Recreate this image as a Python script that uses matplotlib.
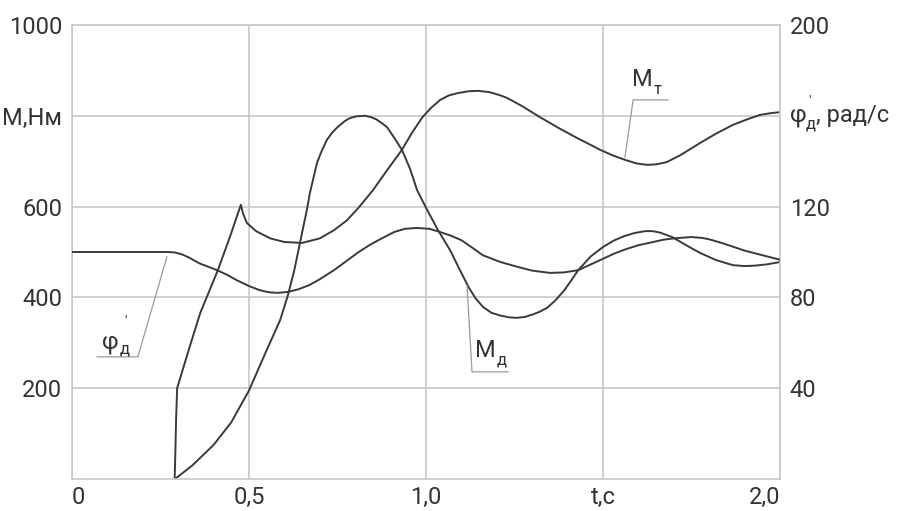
import matplotlib
matplotlib.use('Agg')
import matplotlib.pyplot as plt

plt.rcParams['font.family'] = ['Roboto', 'DejaVu Sans']

# shaft speed phi'_d, rad/s (right axis)
t_phi = [0, 0.27, 0.29, 0.31, 0.33, 0.36, 0.385, 0.41, 0.44, 0.465, 0.50, 0.53,
         0.555, 0.58, 0.61, 0.64, 0.67, 0.70, 0.74, 0.775, 0.81, 0.84, 0.87,
         0.91, 0.94, 0.975, 1.01, 1.04, 1.07, 1.10, 1.13, 1.16, 1.21, 1.26,
         1.30, 1.35, 1.39, 1.43, 1.465, 1.50, 1.53, 1.56, 1.60, 1.63, 1.67,
         1.70, 1.75, 1.78, 1.80, 1.835, 1.87, 1.90, 1.94, 1.97, 2.0]
phi = [100, 100, 99.8, 99.0, 97.6, 95, 93.5, 92, 89.8, 87.6, 85, 83.2,
       82.3, 82, 82.4, 83.6, 85.4, 88, 92, 96, 100, 103, 105.6,
       108.8, 110.2, 110.6, 110.2, 108.8, 107.2, 105.2, 102, 98.6, 95.6, 93.4,
       91.8, 90.8, 91, 92, 94.5, 97, 99.2, 101, 103, 104, 105.4,
       106, 106.6, 106.2, 105.6, 104, 102.2, 100.6, 99, 97.8, 96.6]

# M_T, N*m
t_mt = [0.29, 0.292, 0.294, 0.297, 0.33, 0.362, 0.412, 0.446, 0.477, 0.483,
        0.494, 0.52, 0.56, 0.60, 0.65, 0.70, 0.74, 0.777, 0.81, 0.85, 0.89,
        0.932, 0.96, 0.99, 1.015, 1.04, 1.065, 1.09, 1.12, 1.147, 1.18, 1.21,
        1.23, 1.27, 1.322, 1.375, 1.427, 1.46, 1.492, 1.53, 1.562, 1.595,
        1.624, 1.65, 1.68, 1.72, 1.774, 1.82, 1.867, 1.91, 1.944, 1.975, 2.0]
m_t = [0, 60, 130, 200, 285, 365, 460, 533, 604, 585,
       564, 546, 530, 522, 520, 530, 548, 570, 598, 636, 680,
       725, 762, 797, 818, 835, 845, 850, 854, 855, 852, 845,
       839, 822, 797, 773, 751, 738, 725, 712, 703, 695,
       692, 693, 698, 714, 740, 761, 780, 793, 802, 806, 808]

# M_d, N*m
t_md = [0.291, 0.34, 0.40, 0.45, 0.50, 0.55, 0.588, 0.61, 0.628, 0.644, 0.664,
        0.672, 0.692, 0.705, 0.72, 0.735, 0.75, 0.77, 0.785, 0.805, 0.828,
        0.845, 0.86, 0.875, 0.89, 0.91, 0.932, 0.955, 0.975, 1.003, 1.034,
        1.068, 1.096, 1.12, 1.14, 1.161, 1.185, 1.21, 1.235, 1.257, 1.28,
        1.30, 1.32, 1.342, 1.365, 1.39, 1.41, 1.43, 1.465, 1.50, 1.53, 1.56,
        1.59, 1.62, 1.64, 1.66, 1.695, 1.735, 1.774, 1.82, 1.867, 1.90, 1.93,
        1.965, 2.0]
m_d = [0, 30, 75, 125, 195, 284, 350, 405, 460, 520, 595,
       630, 696, 722, 747, 763, 775, 788, 795, 799, 800,
       797, 792, 784, 775, 752, 725, 683, 636, 593, 548,
       504, 460, 423, 398, 379, 366, 360, 356, 355, 357,
       362, 368, 377, 393, 415, 437, 460, 490, 511, 525, 535,
       542, 546, 546, 543, 533, 515, 498, 482, 471, 469, 470,
       473, 478]

x_ticks = [0, 0.5, 1.0, 1.5, 2.0]
x_labels = ['0', '0,5', '1,0', 't,c', '2,0']
m_ticks = [200, 400, 600, 800, 1000]
m_labels = ['200', '400', '600', 'М,Нм', '1000']
w_ticks = [40, 80, 120, 160, 200]
w_labels = ['40', '80', '120', '', '200']

grid_c = '#c8c8c8'
line_c = '#3a3a3a'
text_c = '#333333'
fs = 17

fig = plt.figure(figsize=(9.06, 5.11), dpi=100)
ax = fig.add_axes([72 / 906, 32 / 511, 708 / 906, 454 / 511])
ax.set_xlim(0, 2)
ax.set_ylim(0, 1000)
ax2 = ax.twinx()
ax2.set_ylim(0, 200)

ax.set_xticks(x_ticks)
ax.set_xticklabels(x_labels)
ax.set_yticks(m_ticks)
ax.set_yticklabels(m_labels)
ax.grid(True, color=grid_c, lw=1.2)
ax.tick_params(length=0, labelsize=fs, labelcolor=text_c, pad=7)
ax.tick_params(axis='x', pad=5)
xl = ax.get_xticklabels()
xl[0].set_horizontalalignment('left')
xl[-1].set_horizontalalignment('right')
for s in ax.spines.values():
    s.set_color(grid_c)
    s.set_linewidth(1.2)

ax2.set_yticks(w_ticks)
ax2.set_yticklabels(w_labels)
ax2.tick_params(length=0, labelsize=fs, labelcolor=text_c, pad=7)
for s in ax2.spines.values():
    s.set_visible(False)

ax.plot(t_mt, m_t, color=line_c, lw=1.4)
ax.plot(t_md, m_d, color=line_c, lw=1.4)
ax2.plot(t_phi, phi, color=line_c, lw=1.4)

# leaders
lead_c = '#9a9a9a'
ax.plot([0.268, 0.186, 0.071], [489, 269, 269], color=lead_c, lw=0.9)
ax.plot([1.116, 1.13, 1.232], [425, 236, 236], color=lead_c, lw=0.9)
ax.plot([1.562, 1.585, 1.684], [709, 835, 835], color=lead_c, lw=0.9)

kw = dict(color=text_c)
ax.text(0.107, 300, 'φ', fontsize=fs, ha='center', va='center', **kw)
ax.text(0.150, 287, 'д', fontsize=12, ha='center', va='center', **kw)
ax.text(0.150, 345, "'", fontsize=11, ha='center', va='center', **kw)

ax.text(1.167, 284, 'М', fontsize=fs, ha='center', va='center', **kw)
ax.text(1.213, 262, 'д', fontsize=12, ha='center', va='center', **kw)

ax.text(1.61, 881, 'М', fontsize=fs, ha='center', va='center', **kw)
ax.text(1.655, 857, 'т', fontsize=12, ha='center', va='center', **kw)

# right axis title at 160 level
tr = ax2.get_yaxis_transform()
ax2.annotate('φ', xy=(1, 160), xycoords=tr, xytext=(10, 0),
             textcoords='offset pixels', fontsize=fs, ha='left', va='center', **kw)
ax2.annotate('д', xy=(1, 160), xycoords=tr, xytext=(26, -8),
             textcoords='offset pixels', fontsize=12, ha='left', va='center', **kw)
ax2.annotate("'", xy=(1, 160), xycoords=tr, xytext=(28, 14),
             textcoords='offset pixels', fontsize=11, ha='left', va='center', **kw)
ax2.annotate(', рад/с', xy=(1, 160), xycoords=tr, xytext=(36, 0),
             textcoords='offset pixels', fontsize=fs, ha='left', va='center', **kw)

fig.savefig('out.png', dpi=100)
